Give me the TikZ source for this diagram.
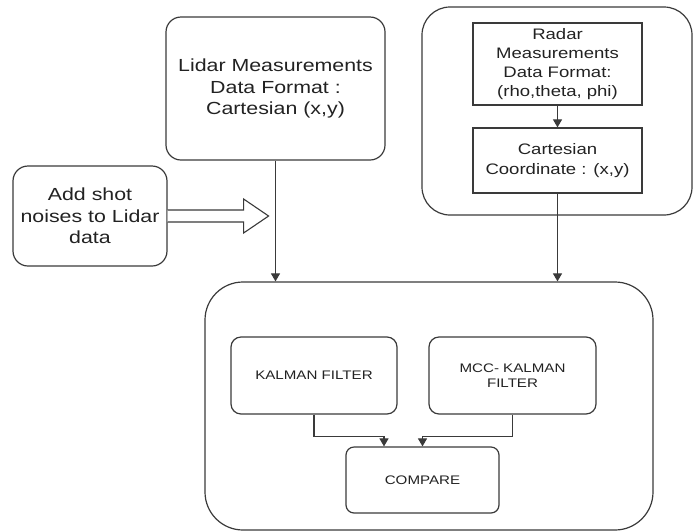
\documentclass[tikz,border=0pt]{standalone}
\usepackage{fontspec}
\setmainfont{Liberation Sans}[FakeStretch=1.22]
\usepackage{tikz}
\usetikzlibrary{positioning,arrows.meta}
\definecolor{edge}{HTML}{3A3A3A}
\definecolor{ink}{HTML}{222222}
\newcommand{\bigtxt}{\fontsize{17.5}{21.7}\selectfont}
\newcommand{\midtxt}{\fontsize{15.2}{19.2}\selectfont}
\newcommand{\smalltxt}{\fontsize{12.4}{15}\selectfont}

\begin{document}
\begin{tikzpicture}[
  x=1pt, y=-1pt,
  box/.style={draw=edge, line width=1.2pt, align=center, text=ink,
              inner sep=0pt, rounded corners=15pt},
  flat/.style={box, rounded corners=0pt},
  small/.style={box, rounded corners=10pt, font=\smalltxt},
  arr/.style={-{Triangle[length=8pt,width=9pt]}, draw=edge, line width=1.1pt},
  hollow/.style={draw=edge, line width=1.1pt, fill=white, line join=miter}
]
\useasboundingbox (0,0) rectangle (693,531);
% ---- inputs ----
\node[box, font=\bigtxt, minimum width=219pt, minimum height=143pt] (lidar) at (275.5,88.5)
  {Lidar Measurements\\Data Format :\\Cartesian (x,y)};
\node[box, rounded corners=28pt, minimum width=270pt, minimum height=208pt] (radar) at (557,111) {};
\node[flat, font=\midtxt, minimum width=169pt, minimum height=82pt] (rmeas) at (557.5,64)
  {Radar\\Measurements\\Data Format:\\(rho,theta, phi)};
\node[flat, font=\midtxt, minimum width=169pt, minimum height=65pt] (cart) at (557.5,160.5)
  {Cartesian\\Coordinate : (x,y)};
\node[box, font=\bigtxt, minimum width=154pt, minimum height=100pt] (noise) at (90,216)
  {Add shot\\noises to Lidar\\data};
\draw[arr] (rmeas) -- (cart);
% shot noise arrow
\draw[hollow] ([yshift=6pt]noise.east) -- ++(76,0) -- ++(0,-11) -- ++(25,17)
  -- ++(-25,17) -- ++(0,-11) -- ([yshift=-6pt]noise.east);
% ---- filters ----
\node[box, rounded corners=38pt, minimum width=448pt, minimum height=248pt] (sys) at (429,406) {};
\node[small, minimum width=166pt, minimum height=77pt] (kf) at (314,375.5) {KALMAN FILTER};
\node[small, minimum width=167pt, minimum height=77pt] (mcc) at (512.5,375.5) {MCC- KALMAN\\FILTER};
\node[small, rounded corners=8pt, minimum width=153pt, minimum height=66pt] (cmp) at (422.5,480) {COMPARE};
\draw[arr] (lidar.south) -- (lidar.south |- sys.north);
\draw[arr] (cart.south) -- (cart.south |- sys.north);
\draw[arr] (kf.south) -- ++(0,22) -| ([xshift=-38.5pt]cmp.north);
\draw[arr] (mcc.south) -- ++(0,22) -| (cmp.north);
\end{tikzpicture}
\end{document}
